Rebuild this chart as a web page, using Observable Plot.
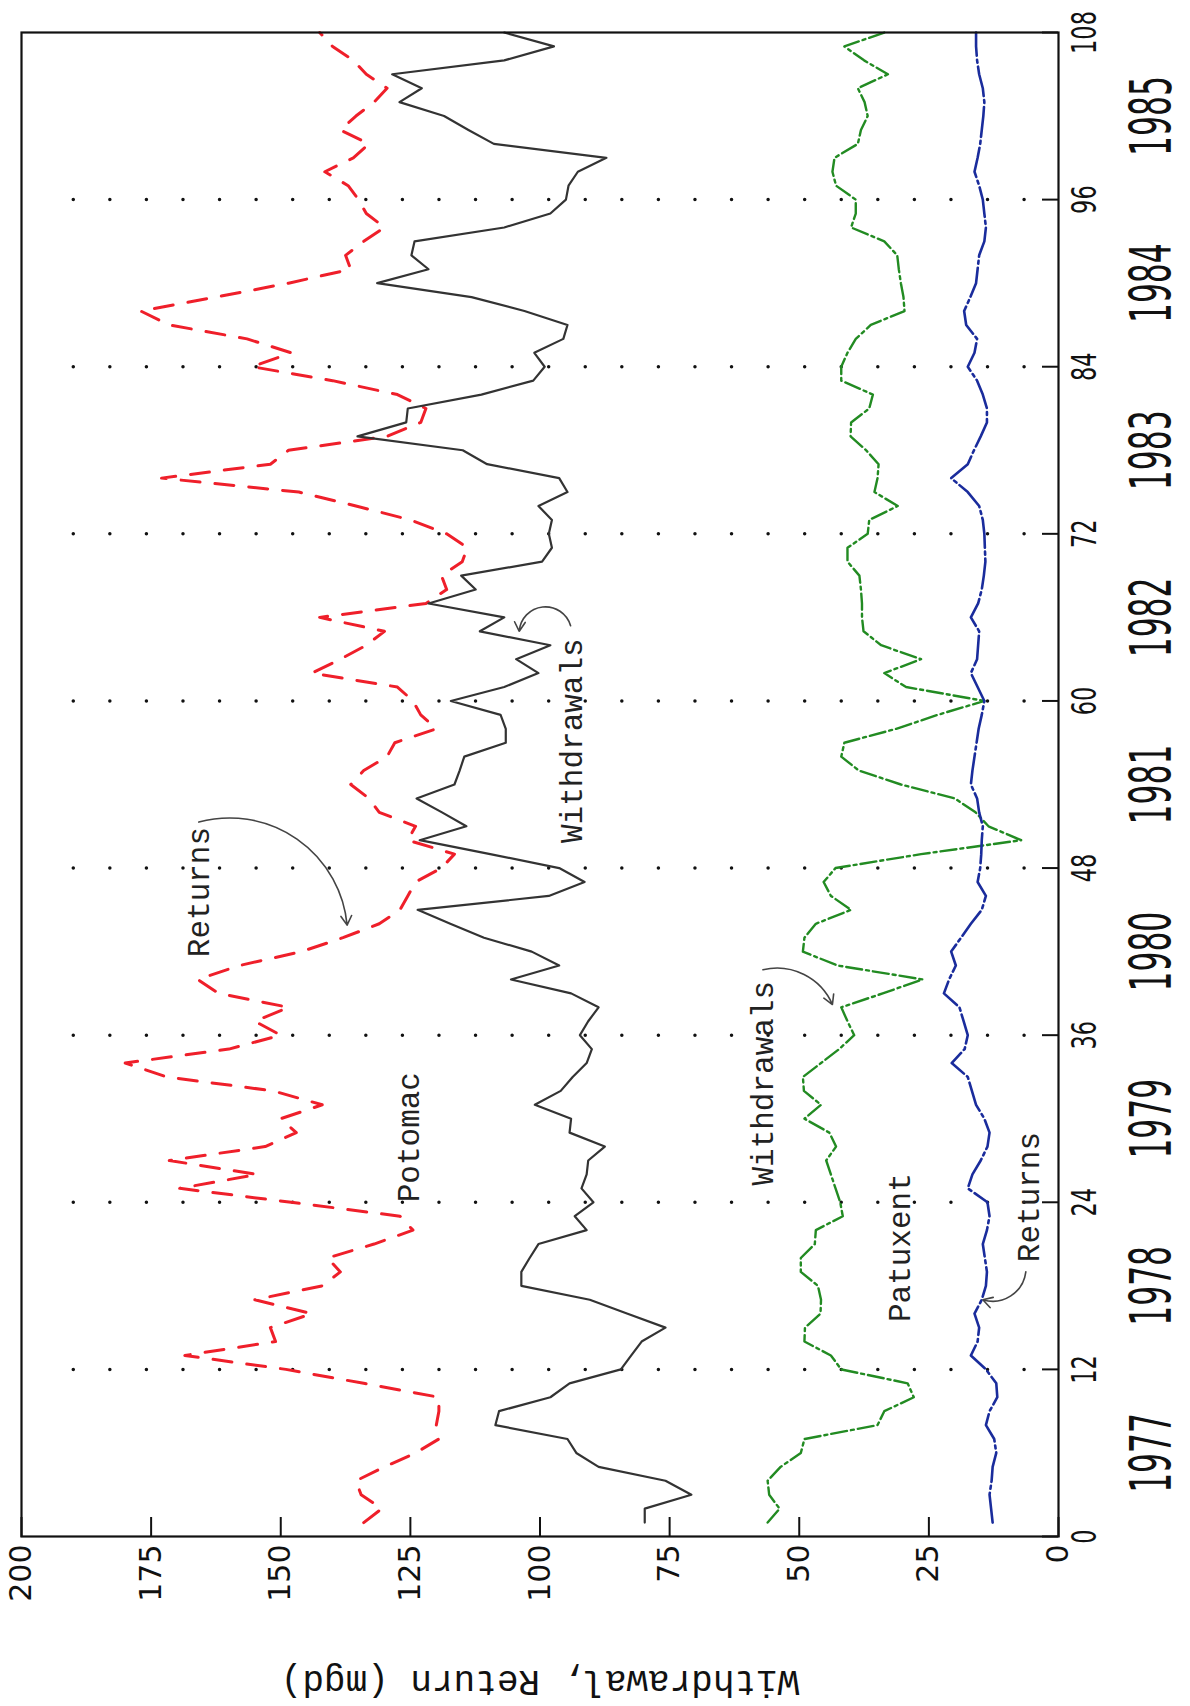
<!DOCTYPE html>
<html><head><meta charset="utf-8">
<script src="https://cdn.jsdelivr.net/npm/d3@7"></script>
<script src="https://cdn.jsdelivr.net/npm/@observablehq/plot@0.6"></script>
<style>
html,body{margin:0;padding:0;background:#fff;}
#wrap{position:relative;width:1190px;height:1706px;overflow:hidden;background:#fff;}
</style></head><body><div id="wrap"></div>
<script>
// Month index 1..108 (Jan 1977 .. Dec 1985)
const months = d3.range(1, 109);

const potomacReturns = [
134,130.5,134.5,135.5,130,124,119.5,120,119.5,119.5,134,149,
168.5,151,152,144,155,142,138.5,141,132,124.5,127,148,
169.5,154.5,171.5,153,147,150,142,151.5,172,180,160,150,
155,148.5,162,166,158,146,138,131,127,125.5,124,119,
116.5,125.5,124,131,133,136.5,134,129.5,128,120,123,124.5,
127.5,144,138.5,133.5,130,142.5,122,118,119,115,114,118,
125,135.5,146.5,173,152,148.5,129.5,123,122,127.5,140,155.5,
148,156.5,171.5,177,162.5,148.5,136.5,137.5,134,130,133.5,135,
137,141.5,136,133,138.5,135.5,132,129.5,133.5,136,140,142.5];

const potomacWithdrawals = [
79.8,79.8,70.8,75.8,88.7,93,94.7,108.6,107.9,98,94.3,84.4,
82.4,80.4,75.8,83.1,90.4,103.6,103.6,102,100.3,91,93.3,89.7,
92,91,90.7,87.5,94.3,94,101,96,93.7,91,90,92.3,
90.7,88.7,94,105.6,96.3,101.6,110.8,117.3,123.6,98.3,91.4,96.3,
109.6,123.2,114.2,118.9,123.8,116.5,115.5,114.6,106.6,106.6,107.6,117.2,
106.9,100.3,104.6,98,111.6,106.9,121.5,112.4,115.2,99.6,97.7,98.3,
97.7,100.3,94.7,96.3,110.2,114.9,135.2,125.8,125.5,111.3,101.3,99.1,
101.1,95.5,94.7,103,113.2,131.4,121.5,124.8,124.2,106.9,98,95,
94.5,92.7,87.2,108.9,113.8,118.5,127.1,122.8,128.5,106.9,97.3,106.9];

const patuxentWithdrawals = [
56.1,53.8,55.8,56.1,53.6,49.7,49,34.9,33.6,27.9,29.1,41.9,
43.9,49,48.9,45.9,45.8,46.4,49.7,49.7,47,46.8,41.6,42.1,
43,43.9,44.8,42.9,44.2,49,45.8,49.1,49.3,45.8,42.3,39.4,
40.7,41.9,33.9,26.2,42.6,49.3,49,46.8,40,43.9,45.3,43,
26.5,7.2,13.5,16,20,30.4,38.5,41.9,41.3,31.3,23.3,14.3,
29.4,33.6,26.5,34.2,37.6,37.9,37.9,38.1,38.4,40.7,40.7,36.8,
36.5,31,35.5,34.9,34.7,37.1,40.1,40,36.5,35.8,41.9,41.9,
40.7,39.1,36.2,29.7,29.9,30.4,30.8,31.1,33.6,40,39.1,39.1,
42.9,43.6,43.2,38.7,38.1,36.8,37.4,38.7,32.9,37.5,41.3,33.6];

const patuxentReturns = [
12.7,13,13.3,12.9,12.7,12,12.4,14,13.3,11.8,12,14,
16.9,15.6,15.3,16.2,14.8,14,13.8,14.2,14.6,13.8,13.3,13.7,
17.5,16.6,15,13.7,13.3,14.3,15.9,16.7,17.5,20.6,18.1,17.5,
18.3,19.1,22.1,21.1,19.8,20.7,18.8,16.9,14.8,14,15.6,15.1,
14.9,14.8,14.6,15.3,15.7,16.9,16.6,16.2,15.8,15.4,14.8,14.3,
15.6,16.9,15.7,15.5,15.3,16.9,15.5,14.8,14.4,14.1,14.2,14.3,
14.6,15.3,17.5,20.7,17.5,16.3,15,13.8,13.8,14.6,15.7,17.5,
16.2,15.7,17.8,18.2,17,15.9,15.6,15.3,14.3,14,14.3,14.6,
15.3,16.2,15.6,15.1,14.8,14.5,14.3,14.6,15.3,15.7,15.9,15.9];

// Axis ticks and labels
const monthTicks = [0,12,24,36,48,60,72,84,96,108];
const gridMonths = [12,24,36,48,60,72,84,96];
const valueTicks = [0,25,50,75,100,125,150,175,200];
const yearLabels = ["1977","1978","1979","1980","1981","1982","1983","1984","1985"];
const yearMonths = [6,18,30,42,54,66,78,90,102];
const yTitle = "Withdrawal, Return (mgd)";

// In-plot annotations (month, value)
const noteText  = ["Returns","Withdrawals","Potomac","Withdrawals","Patuxent","Returns"];
const noteMonth = [41.6, 49.8, 24.0, 25.2, 15.4, 19.7];
const noteValue = [165.8, 93.8, 125.3, 57.0, 30.5, 5.7];
const arrowFromMonth = [51.3, 65.4, 40.7, 19.0];
const arrowFromValue = [165.8, 94.1, 57.0, 6.3];
const arrowToMonth   = [43.9, 65.0, 38.2, 17.0];
const arrowToValue   = [137.2, 104.0, 43.6, 14.6];
const arrowBend      = [50, -80, 40, 50];

const toRows = arr => months.map((m, i) => ({month: m, value: arr[i]}));
const notes = noteText.map((t, i) => ({t, month: noteMonth[i], value: noteValue[i]}));
const arrows = arrowFromMonth.map((m, i) => ({x1: m, y1: arrowFromValue[i], x2: arrowToMonth[i], y2: arrowToValue[i], bend: arrowBend[i]}));

const W = 1706, H = 1190;
const mL = 169, mR = 33, mT = 21, mB = 132;
const frameW = W - mL - mR, frameH = H - mT - mB;

const svg = Plot.plot({
  width: W, height: H,
  marginLeft: mL, marginRight: mR, marginTop: mT, marginBottom: mB,
  style: {fontFamily: "DejaVu Sans", background: "white", color: "black"},
  x: {domain: [0, 108], axis: null},
  y: {domain: [0, 200], axis: null},
  marks: [
    Plot.ruleX(gridMonths, {x: d => d, stroke: "#111", strokeWidth: 3.5, strokeLinecap: "round", strokeDasharray: "0,36.57", strokeDashoffset: 24.3, insetTop: 40, insetBottom: 20}),
    Plot.ruleX(monthTicks, {x: d => d, stroke: "#111", strokeWidth: 2, insetTop: frameH - 16}),
    Plot.ruleY(valueTicks, {y: d => d, stroke: "#111", strokeWidth: 2, insetRight: frameW - 20}),
    Plot.line(toRows(potomacReturns), {x: "month", y: "value", stroke: "#ef1f2a", strokeWidth: 3, strokeDasharray: "19,15"}),
    Plot.line(toRows(potomacWithdrawals), {x: "month", y: "value", stroke: "#333", strokeWidth: 2.2}),
    Plot.line(toRows(patuxentWithdrawals), {x: "month", y: "value", stroke: "#228b22", strokeWidth: 2.4, strokeDasharray: "16,4,3,4"}),
    Plot.line(toRows(patuxentReturns), {x: "month", y: "value", stroke: "#1a2c9c", strokeWidth: 2.6, strokeDasharray: "30,4,3,4"}),
    ...arrows.map(a => Plot.arrow([a], {x1: "x1", y1: "y1", x2: "x2", y2: "y2", bend: a.bend, stroke: "#444", strokeWidth: 1.6, headLength: 10})),
    Plot.text(notes, {x: "month", y: "value", text: "t", textAnchor: "start", lineAnchor: "middle", fontFamily: "Liberation Mono", fontSize: 31, fill: "#222"}),
    Plot.frame({stroke: "#111", strokeWidth: 2.2}),
    Plot.text(valueTicks, {y: d => d, text: d => String(d), frameAnchor: "left", dx: -8, textAnchor: "end", lineAnchor: "middle", fontSize: 30, fill: "#111"}),
    Plot.text(monthTicks, {x: d => d, text: d => String(d), frameAnchor: "bottom", dy: 13, lineAnchor: "top", fontSize: 34, fill: "#111"}),
    Plot.text(yearMonths, {x: d => d, text: (d, i) => yearLabels[i], frameAnchor: "bottom", dy: 73, lineAnchor: "top", fontSize: 56, fill: "#111"}),
    Plot.text([yTitle], {text: d => d, frameAnchor: "left", dx: -146, rotate: -90, textAnchor: "middle", lineAnchor: "middle", fontFamily: "Liberation Mono", fontSize: 36, fill: "#111"})
  ]
});

// Condense the tall, narrow tick-label lettering
d3.select(svg).selectAll("g").each(function () {
  const fs = this.getAttribute("font-size");
  const sx = fs === "34" ? 0.66 : fs === "56" ? 0.56 : null;
  if (sx) d3.select(this).selectAll("text").each(function () {
    this.setAttribute("transform", (this.getAttribute("transform") || "") + ` scale(${sx},1)`);
  });
});

svg.style.maxWidth = "none";
svg.style.width = W + "px";
svg.style.height = H + "px";
svg.style.position = "absolute";
svg.style.left = "0px";
svg.style.top = "0px";
svg.style.transformOrigin = "0 0";
svg.style.transform = "translate(0px, 1706px) rotate(-90deg)";
document.getElementById("wrap").appendChild(svg);
</script></body></html>
